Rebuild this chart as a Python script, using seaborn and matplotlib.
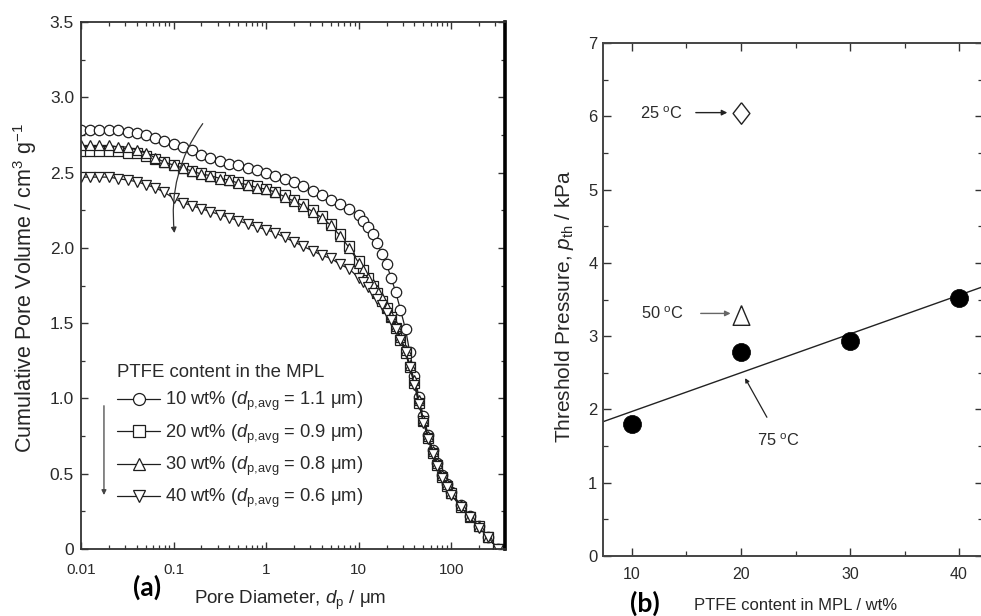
import matplotlib
matplotlib.use("Agg")
import matplotlib.pyplot as plt
from matplotlib.ticker import FixedLocator, MultipleLocator, FuncFormatter, LogLocator, NullFormatter
import seaborn as sns
import pandas as pd

# ---------------- data: panel (a) ----------------
pore_d = [0.010, 0.0126, 0.0158, 0.020, 0.025, 0.032, 0.040, 0.050, 0.063, 0.079,
          0.10, 0.126, 0.158, 0.20, 0.25, 0.32, 0.40, 0.50, 0.63, 0.79,
          1.0, 1.26, 1.58, 2.0, 2.5, 3.2, 4.0, 5.0, 6.3, 7.9,
          10, 11.2, 12.6, 14.1, 15.8, 17.8, 20, 22.4, 25, 28.2,
          32, 35.5, 40, 44.7, 50, 56.2, 63, 70.8, 79, 89.1,
          100, 126, 158, 200, 250, 316]

vol_10 = [2.78, 2.78, 2.78, 2.78, 2.78, 2.77, 2.76, 2.75, 2.73, 2.71,
          2.69, 2.67, 2.65, 2.62, 2.60, 2.58, 2.56, 2.55, 2.53, 2.52,
          2.50, 2.48, 2.46, 2.44, 2.41, 2.38, 2.35, 2.32, 2.29, 2.26,
          2.22, 2.18, 2.14, 2.09, 2.03, 1.96, 1.89, 1.80, 1.71, 1.59,
          1.46, 1.31, 1.15, 1.01, 0.88, 0.76, 0.66, 0.57, 0.49, 0.43,
          0.38, 0.29, 0.22, 0.15, 0.08, 0.00]

vol_20 = [2.64, 2.64, 2.64, 2.64, 2.64, 2.63, 2.63, 2.61, 2.59, 2.57,
          2.55, 2.53, 2.51, 2.50, 2.48, 2.47, 2.45, 2.44, 2.42, 2.41,
          2.39, 2.37, 2.35, 2.32, 2.29, 2.25, 2.21, 2.16, 2.09, 2.01,
          1.91, 1.85, 1.80, 1.75, 1.70, 1.65, 1.60, 1.54, 1.47, 1.39,
          1.30, 1.21, 1.10, 0.97, 0.85, 0.74, 0.64, 0.56, 0.48, 0.42,
          0.37, 0.28, 0.21, 0.15, 0.08, 0.00]

vol_30 = [2.68, 2.68, 2.68, 2.68, 2.67, 2.67, 2.65, 2.63, 2.60, 2.57,
          2.55, 2.53, 2.51, 2.49, 2.48, 2.46, 2.45, 2.43, 2.42, 2.40,
          2.39, 2.37, 2.34, 2.31, 2.28, 2.24, 2.20, 2.15, 2.08, 2.00,
          1.90, 1.85, 1.80, 1.76, 1.72, 1.67, 1.61, 1.55, 1.48, 1.41,
          1.32, 1.22, 1.12, 0.99, 0.86, 0.75, 0.65, 0.57, 0.49, 0.43,
          0.37, 0.29, 0.22, 0.15, 0.08, 0.00]

vol_40 = [2.47, 2.47, 2.47, 2.47, 2.46, 2.45, 2.44, 2.42, 2.40, 2.37,
          2.33, 2.30, 2.28, 2.26, 2.24, 2.22, 2.20, 2.18, 2.16, 2.14,
          2.12, 2.10, 2.07, 2.04, 2.01, 1.98, 1.95, 1.93, 1.89, 1.86,
          1.80, 1.77, 1.74, 1.70, 1.66, 1.62, 1.57, 1.52, 1.46, 1.39,
          1.31, 1.21, 1.09, 0.96, 0.84, 0.73, 0.63, 0.55, 0.47, 0.41,
          0.36, 0.28, 0.21, 0.14, 0.08, 0.00]

series_names = ["10 wt%", "20 wt%", "30 wt%", "40 wt%"]
legend_labels = ["10 wt% ($d_{\\rm p{,}avg}$ = 1.1 \u03bcm)",
                 "20 wt% ($d_{\\rm p{,}avg}$ = 0.9 \u03bcm)",
                 "30 wt% ($d_{\\rm p{,}avg}$ = 0.8 \u03bcm)",
                 "40 wt% ($d_{\\rm p{,}avg}$ = 0.6 \u03bcm)"]
a_xticks = [0.01, 0.1, 1, 10, 100]
a_xticklabels = ["0.01", "0.1", "1", "10", "100"]

# ---------------- data: panel (b) ----------------
ptfe_wt = [10, 20, 30, 40]
p_th_75 = [1.80, 2.79, 2.94, 3.52]
p_th_25_x, p_th_25 = [20], [6.05]
p_th_50_x, p_th_50 = [20], [3.29]
fit_x = [7.3, 42.3]
fit_y = [1.83, 3.68]

# ---------------- style ----------------
sns.set_theme(style="ticks")
plt.rcParams["font.family"] = ["Liberation Sans", "DejaVu Sans"]
plt.rcParams["mathtext.fontset"] = "custom"
plt.rcParams["mathtext.rm"] = "Liberation Sans"
plt.rcParams["mathtext.it"] = "Liberation Sans:italic"
plt.rcParams["mathtext.bf"] = "Liberation Sans:bold"
plt.rcParams["axes.unicode_minus"] = False
TXT = "#2a2a2a"
plt.rcParams["text.color"] = TXT
plt.rcParams["xtick.color"] = TXT
plt.rcParams["ytick.color"] = TXT
plt.rcParams["xtick.labelcolor"] = TXT
plt.rcParams["ytick.labelcolor"] = TXT

W, H = 981, 616
fig = plt.figure(figsize=(W / 100, H / 100), dpi=100)
fig.patch.set_facecolor("white")


def px_axes(l, r, t, b):
    return [l / W, 1 - b / H, (r - l) / W, (b - t) / H]


# ================= panel (a) =================
axa = fig.add_axes(px_axes(81, 505, 22, 549))
df = pd.concat([pd.DataFrame({"d": pore_d, "V": v, "PTFE": n})
                for v, n in zip([vol_10, vol_20, vol_30, vol_40], series_names)],
               ignore_index=True)
sns.lineplot(data=df, x="d", y="V", style="PTFE", style_order=series_names,
             markers=["o", "s", "^", "v"], dashes=False, color="#1e1e1e",
             lw=0.9, markersize=7.5, markerfacecolor="white",
             markeredgecolor="#1e1e1e", markeredgewidth=0.9,
             estimator=None, errorbar=None, sort=False, legend=False, ax=axa)
axa.set_xscale("log")
axa.set_xlim(0.01, 380)
axa.set_ylim(0, 3.5)
axa.xaxis.set_major_locator(FixedLocator(a_xticks))
axa.xaxis.set_major_formatter(FuncFormatter(
    lambda v, p: a_xticklabels[a_xticks.index(v)] if v in a_xticks else ""))
axa.xaxis.set_minor_locator(LogLocator(base=10, subs=range(2, 10), numticks=20))
axa.xaxis.set_minor_formatter(NullFormatter())
axa.yaxis.set_major_locator(MultipleLocator(0.5))
axa.yaxis.set_minor_locator(MultipleLocator(0.25))
axa.yaxis.set_major_formatter(FuncFormatter(lambda v, p: "0" if abs(v) < 1e-9 else f"{v:.1f}"))
axa.tick_params(which="both", direction="in", top=True, right=True, color="#333")
axa.tick_params(which="major", length=5, width=1.0)
axa.tick_params(which="minor", length=2.8, width=0.9)
axa.tick_params(axis="x", which="major", labelsize=11, pad=10)
axa.tick_params(axis="y", which="major", labelsize=12.5, pad=5)
for s in axa.spines.values():
    s.set_color("#333")
    s.set_linewidth(1.3)
axa.spines["right"].set_color("black")
axa.spines["right"].set_linewidth(2.6)

axa.set_xlabel("Pore Diameter, $d_{\\rm p}$ / \u03bcm", fontsize=13.5)
axa.xaxis.label.set_va("center")
axa.xaxis.set_label_coords((290 - 81) / 424, (549 - 600) / 527)
axa.set_ylabel("Cumulative Pore Volume / cm$^{3}$ g$^{-1}$", fontsize=15.5)
axa.yaxis.label.set_va("center")
axa.yaxis.set_label_coords((25 - 81) / 424, (549 - 288) / 527)

handles = axa.get_lines()[:4]
leg = axa.legend(handles, legend_labels, title="PTFE content in the MPL",
                 loc="upper left", bbox_to_anchor=((117 - 81) / 424, (549 - 364) / 527),
                 frameon=False, borderpad=0, borderaxespad=0, handlelength=2.35,
                 handletextpad=0.25, labelspacing=0.5, fontsize=13.2,
                 title_fontsize=13.4, alignment="left", markerscale=1.15)

# direction arrows
axa.annotate("", xy=(0.103, 2.08), xytext=(0.215, 2.84),
             arrowprops=dict(arrowstyle="-|>", connectionstyle="arc3,rad=0.2",
                             color="#333", lw=0.9, mutation_scale=8))
axa.annotate("", xy=(0.0177, 0.34), xytext=(0.0177, 0.97),
             arrowprops=dict(arrowstyle="-|>", color="#444", lw=0.9, mutation_scale=7))

fig.text(147 / W, 1 - 587 / H, "(a)", fontsize=19, fontweight="bold",
         family=["Lato", "DejaVu Sans"], color="black", ha="center", va="center")

# ================= panel (b) =================
axb = fig.add_axes(px_axes(603, 983, 43, 556))
sns.lineplot(x=fit_x, y=fit_y, color="#222", lw=1.0, ax=axb)
sns.scatterplot(x=ptfe_wt, y=p_th_75, color="black", s=170, edgecolor="black",
                linewidth=0.5, ax=axb, zorder=3)
diamond = [(0, 1), (0.78, 0), (0, -1), (-0.78, 0), (0, 1)]
tri = [(0, 1), (-0.85, -1), (0.85, -1), (0, 1)]
sns.scatterplot(x=p_th_25_x, y=p_th_25, marker=diamond, s=240, facecolor="white",
                edgecolor="#222", linewidth=1.0, ax=axb, zorder=3)
sns.scatterplot(x=p_th_50_x, y=p_th_50, marker=tri, s=200, facecolor="white",
                edgecolor="#222", linewidth=1.0, ax=axb, zorder=3)
axb.set_xlim(7.34, 42.2)
axb.set_ylim(0, 7)
axb.xaxis.set_major_locator(MultipleLocator(10))
axb.xaxis.set_minor_locator(MultipleLocator(5))
axb.yaxis.set_major_locator(MultipleLocator(1))
axb.yaxis.set_minor_locator(MultipleLocator(0.5))
axb.tick_params(which="both", direction="in", top=True, right=True, color="#333")
axb.tick_params(which="major", length=6, width=1.0)
axb.tick_params(which="minor", length=3.5, width=0.9)
axb.tick_params(axis="x", which="major", labelsize=11.5, pad=8)
axb.tick_params(axis="y", which="major", labelsize=12, pad=4)
for s in axb.spines.values():
    s.set_color("#444")
    s.set_linewidth(1.4)
axb.set_xlabel("PTFE content in MPL / wt%", fontsize=12)
axb.xaxis.label.set_va("center")
axb.xaxis.set_label_coords((796 - 603) / 380, (556 - 605) / 513)
axb.set_ylabel("Threshold Pressure, $p_{\\rm th}$ / kPa", fontsize=15)
axb.yaxis.label.set_va("center")
axb.yaxis.set_label_coords((565 - 603) / 380, (556 - 306) / 513)

axb.text(10.75, 6.04, "25 $^{\\rm o}$C", fontsize=11.8, ha="left", va="center")
axb.annotate("", xy=(19.0, 6.05), xytext=(15.6, 6.05),
             arrowprops=dict(arrowstyle="-|>", color="#222", lw=1.0, mutation_scale=8))
axb.text(10.85, 3.30, "50 $^{\\rm o}$C", fontsize=11.8, ha="left", va="center")
axb.annotate("", xy=(19.3, 3.31), xytext=(16.05, 3.31),
             arrowprops=dict(arrowstyle="-|>", color="#666", lw=1.0, mutation_scale=8))
axb.text(21.5, 1.58, "75 $^{\\rm o}$C", fontsize=11.8, ha="left", va="center")
axb.annotate("", xy=(20.25, 2.46), xytext=(22.5, 1.86),
             arrowprops=dict(arrowstyle="-|>", color="#222", lw=0.9, mutation_scale=6))

fig.text(645 / W, 1 - 603 / H, "(b)", fontsize=19, fontweight="bold",
         family=["Lato", "DejaVu Sans"], color="black", ha="center", va="center")

fig.savefig("out.png", dpi=100, facecolor="white")
